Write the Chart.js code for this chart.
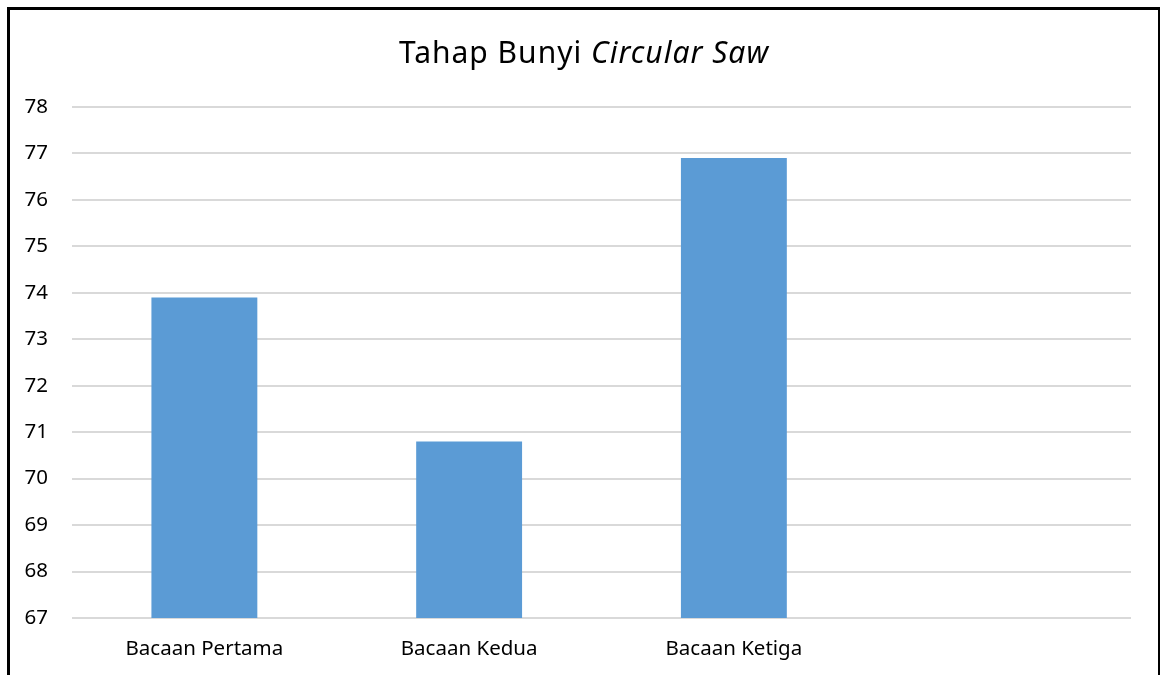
<!DOCTYPE html>
<html>
<head>
<meta charset="utf-8">
<script src="https://cdn.jsdelivr.net/npm/chart.js@4.4.0/dist/chart.umd.min.js"></script>
<style>
  html, body { margin: 0; padding: 0; background: #fff; overflow: hidden; }
  body { width: 1160px; height: 675px; position: relative; }
  #frame { position: absolute; left: 7px; top: 7px; width: 1148px; height: 700px;
           border-left: 3px solid #000; border-top: 3px solid #000; border-right: 2px solid #000; }
  #wrap { position: absolute; left: 0; top: 0; width: 1160px; height: 675px; }
  #title { position: absolute; left: 8px; top: 35px; width: 1152px; text-align: center;
           font-family: "Noto Sans", sans-serif; font-size: 30px; line-height: 34px; color: #000;
           letter-spacing: 1px; }
</style>
</head>
<body>
<div id="frame"></div>
<div id="wrap"><canvas id="c" width="1160" height="675"></canvas></div>
<div id="title">Tahap Bunyi <i>Circular Saw</i></div>
<script>
const categories = ['Bacaan Pertama', 'Bacaan Kedua', 'Bacaan Ketiga', ''];
const values = [73.9, 70.8, 76.9, null];
const yMin = 67;
const yMax = 78;

new Chart(document.getElementById('c'), {
  type: 'bar',
  data: {
    labels: categories,
    datasets: [{
      data: values,
      backgroundColor: '#5b9bd5',
      borderWidth: 0,
      barPercentage: 0.4,
      categoryPercentage: 1.0
    }]
  },
  options: {
    responsive: false,
    animation: false,
    devicePixelRatio: 1,
    layout: { padding: { left: 0, top: 107, right: 29, bottom: 0 } },
    plugins: { legend: { display: false }, title: { display: false }, tooltip: { enabled: false } },
    scales: {
      x: {
        grid: { display: false, drawTicks: false },
        border: { display: false },
        ticks: { color: '#000', font: { family: 'Noto Sans', size: 20.5 }, padding: 19, maxRotation: 0, autoSkip: false },
        afterFit: s => { s.height = 57; }
      },
      y: {
        min: yMin, max: yMax,
        grid: { color: '#d9d9d9', lineWidth: 2, drawTicks: false },
        border: { display: false },
        ticks: { stepSize: 1, color: '#000', font: { family: 'Noto Sans', size: 20.5 }, padding: 24 },
        afterFit: s => { s.width = 72; }
      }
    }
  }
});
</script>
</body>
</html>
